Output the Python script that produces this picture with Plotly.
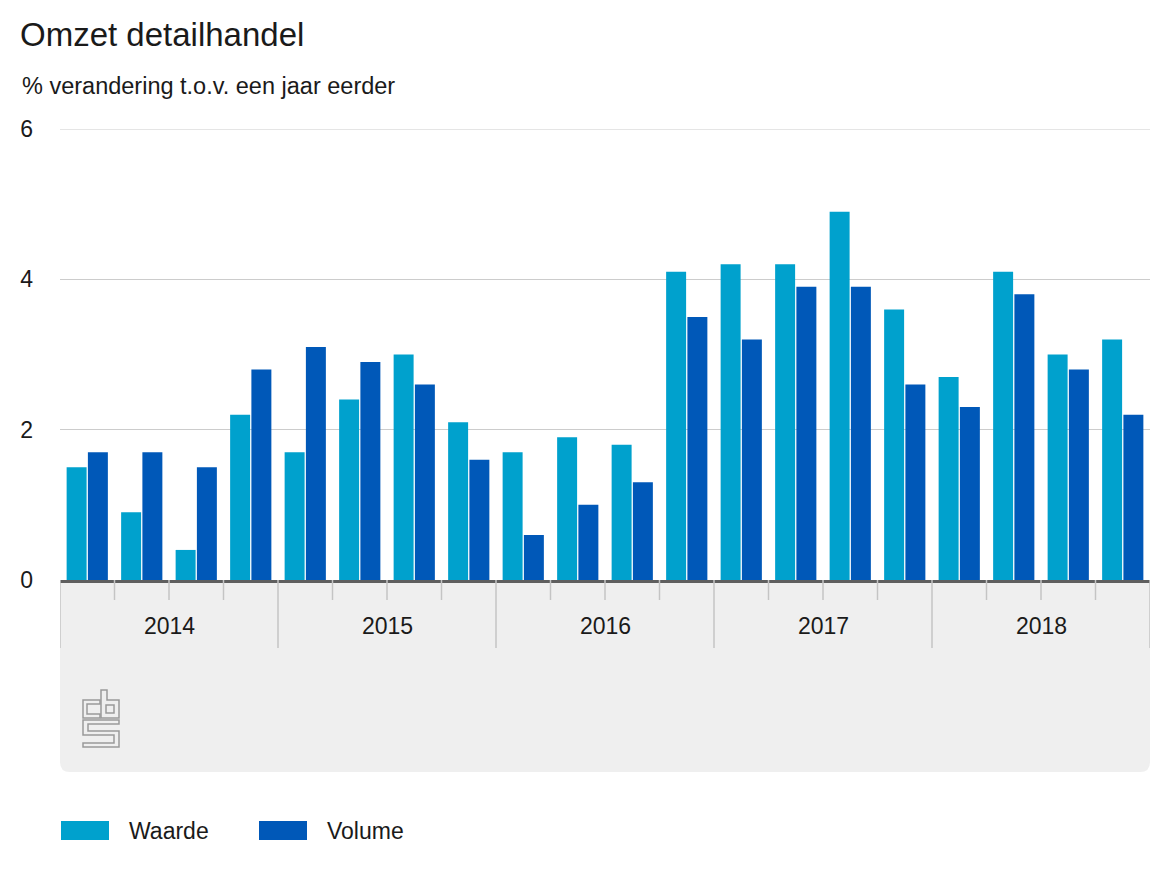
import plotly.graph_objects as go

# ---- data ----
years = ["2014", "2015", "2016", "2017", "2018"]
quarters_per_year = 4
waarde = [1.5, 0.9, 0.4, 2.2,
          1.7, 2.4, 3.0, 2.1,
          1.7, 1.9, 1.8, 4.1,
          4.2, 4.2, 4.9, 3.6,
          2.7, 4.1, 3.0, 3.2]
volume = [1.7, 1.7, 1.5, 2.8,
          3.1, 2.9, 2.6, 1.6,
          0.6, 1.0, 1.3, 3.5,
          3.2, 3.9, 3.9, 2.6,
          2.3, 3.8, 2.8, 2.2]
series_names = ["Waarde", "Volume"]
series_colors = ["#00a1cd", "#0058b8"]
y_ticks = [0, 2, 4, 6]
title = "Omzet detailhandel"
subtitle = "% verandering t.o.v. een jaar eerder"

# ---- layout geometry (window pixels; page body has an 8px margin) ----
OFF = 8
W, H = 1170 - OFF, 878 - OFF
PLOT_L, PLOT_R, PLOT_T, PLOT_B = 60, 1150, 129, 580
L = PLOT_L - OFF
T = PLOT_T - OFF
R = W - (PLOT_R - OFF)
B = H - (PLOT_B - OFF)
PW = PLOT_R - PLOT_L
PH = PLOT_B - PLOT_T
FONT = "Liberation Sans, Arial, sans-serif"


def px(x):
    return (x - PLOT_L) / PW


def py(y):
    return (PLOT_B - y) / PH


n = len(waarde)
xpos = [i + 0.5 for i in range(n)]

fig = go.Figure()
for name, vals, col in zip(series_names, [waarde, volume], series_colors):
    fig.add_trace(go.Bar(x=xpos, y=vals, name=name,
                         marker=dict(color=col, line=dict(width=0)),
                         showlegend=False))

shapes = []
# gray box below axis with rounded bottom corners
r = 10
x0, x1, y0, y1 = 60, 1150, 580, 772
shapes.append(dict(
    type="path", xref="paper", yref="paper", layer="below",
    path=(f"M {px(x0)},{py(y0)} L {px(x1)},{py(y0)} L {px(x1)},{py(y1 - r)} "
          f"Q {px(x1)},{py(y1)} {px(x1 - r)},{py(y1)} L {px(x0 + r)},{py(y1)} "
          f"Q {px(x0)},{py(y1)} {px(x0)},{py(y1 - r)} Z"),
    fillcolor="#efefef", line=dict(width=0)))

# top gridline (at the edge of the plot area)
shapes.append(dict(type="line", xref="paper", yref="y", x0=0, x1=1,
                   y0=y_ticks[-1], y1=y_ticks[-1], layer="below",
                   line=dict(color="#cccccc", width=1)))

# ticks: quarter boundaries and year boundaries
for k in range(n + 1):
    is_year = (k % quarters_per_year == 0)
    shapes.append(dict(type="line", xref="x", yref="paper", x0=k, x1=k,
                       y0=py(580), y1=py(648 if is_year else 600),
                       line=dict(color="#c4c4c4", width=1.5), layer="above"))

# CBS logo (outline)
logo_paths = [
    "M 100 700 H 83 V 718 H 100 V 714 H 87 V 704 H 100 Z",
    "M 101 690 H 107 V 700 H 119 V 718 H 101 Z M 106 705 H 114 V 713 H 106 Z",
    "M 83 720 H 119 V 724 H 88 V 731 H 119 V 747 H 83 V 743 H 114 V 735 H 83 Z",
]


def conv_path(p):
    toks = p.split()
    out = []
    cx = cy = 0.0
    i = 0
    while i < len(toks):
        t = toks[i]
        if t == "M":
            cx, cy = float(toks[i + 1]), float(toks[i + 2])
            i += 3
            out.append(f"M {px(cx)},{py(cy)}")
        elif t == "H":
            cx = float(toks[i + 1])
            i += 2
            out.append(f"L {px(cx)},{py(cy)}")
        elif t == "V":
            cy = float(toks[i + 1])
            i += 2
            out.append(f"L {px(cx)},{py(cy)}")
        elif t == "Z":
            out.append("Z")
            i += 1
        else:
            i += 1
    return " ".join(out)


for p in logo_paths:
    shapes.append(dict(type="path", xref="paper", yref="paper", layer="above",
                       path=conv_path(p), line=dict(color="#9a9a9a", width=1.5),
                       fillcolor="rgba(0,0,0,0)"))

# legend swatches
legend_x = [61, 259]
for lx, col in zip(legend_x, series_colors):
    shapes.append(dict(type="rect", xref="paper", yref="paper",
                       x0=px(lx), x1=px(lx + 48), y0=py(840), y1=py(821),
                       fillcolor=col, line=dict(width=0)))

annotations = []
annotations.append(dict(text=title, xref="paper", yref="paper", x=px(18), y=py(35),
                        xanchor="left", yanchor="middle", showarrow=False,
                        font=dict(size=33, color="#1a1a1a", family=FONT)))
annotations.append(dict(text=subtitle, xref="paper", yref="paper", x=px(20), y=py(86),
                        xanchor="left", yanchor="middle", showarrow=False,
                        font=dict(size=23.5, color="#1a1a1a", family=FONT)))
for j, yr in enumerate(years):
    annotations.append(dict(text=yr, xref="x", yref="paper",
                            x=j * quarters_per_year + quarters_per_year / 2, y=py(626),
                            xanchor="center", yanchor="middle", showarrow=False,
                            font=dict(size=23, color="#1a1a1a", family=FONT)))
for lx, name in zip(legend_x, series_names):
    annotations.append(dict(text=name, xref="paper", yref="paper", x=px(lx + 66), y=py(831),
                            xanchor="left", yanchor="middle", showarrow=False,
                            font=dict(size=23, color="#1a1a1a", family=FONT)))

fig.update_layout(
    width=W, height=H,
    margin=dict(l=L, r=R, t=T, b=B, pad=0),
    paper_bgcolor="white", plot_bgcolor="white",
    barmode="group", bargap=0.22, bargroupgap=0.06,
    font=dict(family=FONT, size=23, color="#1a1a1a"),
    showlegend=False,
    shapes=shapes, annotations=annotations,
    xaxis=dict(range=[0, n], showticklabels=False, ticks="", showgrid=False,
               zeroline=False, showline=True, linecolor="#5f5f5f", linewidth=3,
               fixedrange=True),
    yaxis=dict(range=[0, 6], tickvals=y_ticks, ticktext=[str(v) for v in y_ticks],
               showgrid=True, gridcolor="#cccccc", gridwidth=1, zeroline=False,
               ticks="", ticklabelstandoff=26, showline=False,
               tickfont=dict(size=23, color="#1a1a1a", family=FONT), fixedrange=True),
)

fig.write_html("out.html", config={"displayModeBar": False})
